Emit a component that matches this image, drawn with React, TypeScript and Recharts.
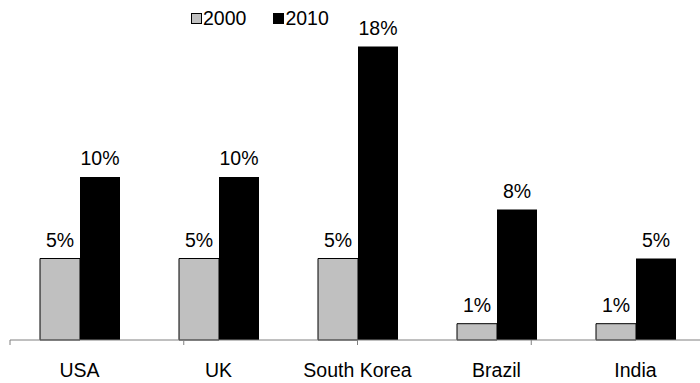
import { BarChart, Bar, XAxis, YAxis, Legend, LabelList } from 'recharts';

const COUNTRIES = ['USA', 'UK', 'South Korea', 'Brazil', 'India'];
const SHARE_2000 = [5, 5, 5, 1, 1];
const SHARE_2010 = [10, 10, 18, 8, 5];
const EDGE_TICKS = [0, 1, 2, 3, 4, 5];

const data = COUNTRIES.map((country, i) => ({
  country,
  y2000: SHARE_2000[i],
  y2010: SHARE_2010[i],
}));

const FONT = '"Liberation Sans", Arial, sans-serif';
const TEXT_SIZE = 19.5;

const renderLegend = (props: any) => {
  const { payload = [] } = props;
  return (
    <div style={{ display: 'flex', alignItems: 'center', fontSize: TEXT_SIZE, lineHeight: '20px', color: '#000' }}>
      {payload.map((entry: any, index: number) => (
        <div key={`item-${index}`} style={{ display: 'flex', alignItems: 'center', marginRight: 27 }}>
          <span
            style={{
              display: 'inline-block',
              width: 11,
              height: 11,
              boxSizing: 'border-box',
              border: '1px solid #000',
              background: entry.color,
              marginRight: 1,
            }}
          />
          <span>{entry.value}</span>
        </div>
      ))}
    </div>
  );
};

export default function App() {
  return (
    <div style={{ position: 'absolute', left: 0, top: 0, width: 700, height: 383, overflow: 'hidden', fontFamily: FONT }}>
      <BarChart
        width={710}
        height={383}
        data={data}
        margin={{ top: 14, right: 5, bottom: 0, left: 10 }}
        barGap={0}
      >
        <YAxis hide domain={[0, 20]} />
        {/* boundary ticks between categories */}
        <XAxis
          xAxisId="boundary"
          type="number"
          domain={[0, 5]}
          ticks={EDGE_TICKS}
          tickFormatter={() => ''}
          height={1}
          tickSize={5}
          stroke="#808080"
          axisLine={{ stroke: '#808080' }}
          tickLine={{ stroke: '#808080' }}
          allowDataOverflow
        />
        <XAxis
          xAxisId="country"
          dataKey="country"
          height={42}
          axisLine={false}
          tickLine={false}
          tickSize={0}
          tickMargin={22}
          tick={{ fill: '#000', fontSize: TEXT_SIZE }}
          interval={0}
        />
        <Legend
          verticalAlign="middle"
          layout="horizontal"
          content={renderLegend}
          wrapperStyle={{ top: 8, left: 191, width: 'auto' }}
        />
        <Bar xAxisId="country" dataKey="y2000" name="2000" fill="#C0C0C0" stroke="#000" strokeWidth={1} barSize={40} isAnimationActive={false}>
          <LabelList dataKey="y2000" position="top" offset={12} fill="#000" fontSize={TEXT_SIZE} formatter={(v: any) => `${v}%`} />
        </Bar>
        <Bar xAxisId="country" dataKey="y2010" name="2010" fill="#000" barSize={40} isAnimationActive={false}>
          <LabelList dataKey="y2010" position="top" offset={12} fill="#000" fontSize={TEXT_SIZE} formatter={(v: any) => `${v}%`} />
        </Bar>
      </BarChart>
    </div>
  );
}
